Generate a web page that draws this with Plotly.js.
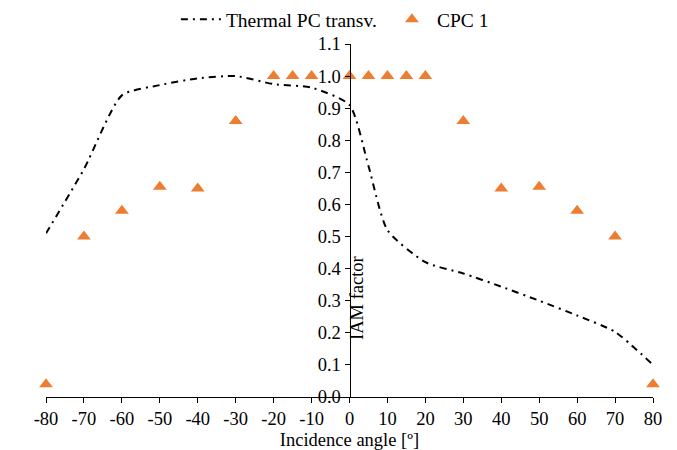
<!DOCTYPE html>
<html>
<head>
<meta charset="utf-8">
<script src="https://cdn.plot.ly/plotly-3.0.1.min.js"></script>
<style>html,body{margin:0;padding:0;background:#fff;}#chart{width:677px;height:450px;}</style>
</head>
<body>
<div id="chart"></div>
<script>
// Thermal PC transversal IAM curve
const thermalAngles = [-80, -70, -60, -50, -40, -30, -20, -10, 0, 5, 10, 20, 30, 40, 50, 60, 70, 80];
const thermalIAM    = [0.51, 0.71, 0.94, 0.972, 0.993, 1.0, 0.975, 0.964, 0.91, 0.72, 0.52, 0.42, 0.385, 0.344, 0.30, 0.254, 0.203, 0.10];
// CPC 1 points
const cpcAngles = [-80, -70, -60, -50, -40, -30, -20, -15, -10, 0, 5, 10, 15, 20, 30, 40, 50, 60, 70, 80];
const cpcIAM    = [0.04, 0.50, 0.58, 0.655, 0.65, 0.86, 1.0, 1.0, 1.0, 1.0, 1.0, 1.0, 1.0, 1.0, 0.86, 0.65, 0.655, 0.58, 0.50, 0.04];
const xTicks = [-80, -70, -60, -50, -40, -30, -20, -10, 0, 10, 20, 30, 40, 50, 60, 70, 80];
const yTicks = [0, 0.1, 0.2, 0.3, 0.4, 0.5, 0.6, 0.7, 0.8, 0.9, 1.0, 1.1];

const traces = [
  {
    x: thermalAngles, y: thermalIAM, type: 'scatter', mode: 'lines',
    name: 'Thermal PC transv.',
    line: {color: '#000000', width: 2, dash: '7px,5px,2px,5px', shape: 'spline', smoothing: 0.6},
    cliponaxis: false
  },
  {
    x: cpcAngles, y: cpcIAM, type: 'scatter', mode: 'markers',
    name: 'CPC 1',
    marker: {symbol: 'triangle-up', color: '#ED7D31', size: 12},
    cliponaxis: false
  }
];

const fam = '"Liberation Serif", "Times New Roman", serif';
const font = {family: fam, size: 18.5, color: '#000'};
const legendFont = {family: fam, size: 19.5, color: '#000'};

const layout = {
  width: 677, height: 450,
  margin: {l: 46, r: 24, t: 44, b: 53},
  paper_bgcolor: '#fff', plot_bgcolor: '#fff',
  font: font,
  showlegend: true,
  legend: {
    orientation: 'h', x: 0.214, xanchor: 'left', y: 1.0, yanchor: 'top',
    yref: 'container', font: legendFont, entrywidth: 156, entrywidthmode: 'pixels',
    itemwidth: 40,
    bgcolor: 'rgba(0,0,0,0)', tracegroupgap: 0
  },
  xaxis: {
    range: [-80, 80], domain: [0, 1],
    tickvals: xTicks, ticktext: xTicks.map(String),
    ticks: 'outside', ticklen: 5, tickwidth: 1, tickcolor: '#000',
    showline: true, linecolor: '#000', linewidth: 1,
    showgrid: false, zeroline: false,
    tickfont: font,
    title: {text: 'Incidence angle [º]', font: font, standoff: 4}
  },
  yaxis: {
    range: [0, 1.1], anchor: 'free', position: 0.5,
    tickvals: yTicks, ticktext: yTicks.map(v => v.toFixed(1)),
    ticks: 'outside', ticklen: 5, tickwidth: 1, tickcolor: '#000',
    showline: true, linecolor: '#000', linewidth: 1,
    showgrid: false, zeroline: false,
    tickfont: font
  },
  annotations: [
    {text: 'IAM factor', xref: 'paper', yref: 'paper', x: 0.512, y: 0.28,
     textangle: -90, showarrow: false, font: font, xanchor: 'center', yanchor: 'middle'}
  ]
};

Plotly.newPlot('chart', traces, layout, {displayModeBar: false, staticPlot: true});
</script>
</body>
</html>
